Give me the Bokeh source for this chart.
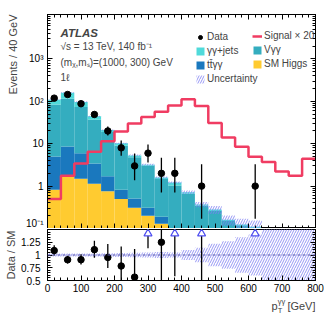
import numpy as np
from bokeh.plotting import figure
from bokeh.layouts import column
from bokeh.models import (Range1d, FixedTicker, LogAxis, LinearAxis, Legend, LegendItem,
                          Label, Title, Span, CustomJSTickFormatter)
from bokeh.embed import file_html
from bokeh.resources import INLINE

# ---------------- data ----------------
bin_edges = [0, 40, 80, 120, 160, 200, 240, 280, 320, 360, 400,
             440, 480, 520, 560, 600, 640, 680, 720, 760, 800]
data_counts = [119, 145, 88, 49, 20, 8, 3, 6, 2, 2, 0, 1, 0, 0, 0, 1, 0, 0, 0, 0]
data_err_lo = [108.6, 133.5, 78.7, 42.0, 15.6, 5.2, 1.37, 3.62, 0.71, 0.71, 0, 0.17,
               0, 0, 0, 0.17, 0, 0, 0, 0]
data_err_hi = [130.4, 157.6, 98.4, 56.8, 25.5, 11.9, 5.92, 9.58, 4.64, 4.64, 0, 3.30,
               0, 0, 0, 3.30, 0, 0, 0, 0]
sm_higgs = [0.82, 1.63, 1.49, 1.14, 0.76, 0.50, 0.31, 0.20, 0.13, 0.04, 0.03, 0.02,
            0.01, 0.01, 0.01, 0.005, 0, 0, 0, 0]
tt_gg = [4.2, 7.0, 4.5, 2.3, 0.94, 0.32, 0.20, 0.11, 0.06, 0.06, 0.03, 0.02,
         0.01, 0.01, 0.005, 0.005, 0, 0, 0, 0]
v_gg = [79.0, 106.4, 68.0, 33.6, 17.3, 8.1, 4.3, 2.7, 1.28, 0.94, 0.60, 0.31,
        0.24, 0.13, 0.10, 0.09, 0, 0, 0, 0]
gg_jets = [25.5, 45.0, 23.0, 7.3, 2.0, 1.28, 0.49, 0.19, 0.13, 0.18, 0.06, 0.02,
           0.02, 0.01, 0.01, 0.01, 0, 0, 0, 0]
signal_x20 = [0.5, 1.75, 3.4, 6.5, 11.4, 19.5, 30, 43, 57, 80, 112, 78,
              31, 14, 8.5, 4.9, 3.7, 2.2, 1.75, 4.4]
rel_unc = [0.03, 0.03, 0.03, 0.03, 0.035, 0.04, 0.045, 0.05, 0.06, 0.05, 0.10, 0.14,
           0.22, 0.27, 0.35, 0.40, 1.0, 1.0, 1.0, 1.0]

x_ticks = [0, 100, 200, 300, 400, 500, 600, 700, 800]
x_tick_labels = ["0", "100", "200", "300", "400", "500", "600", "700", "800"]
y_ticks = [0.1, 1, 10, 100, 1000]
y_tick_labels = ["10⁻¹", "1", "10", "10²", "10³"]
r_ticks = [0.5, 0.75, 1, 1.25]
r_tick_labels = ["0.5", "0.75", "1", "1.25"]

# ---------------- style ----------------
FONT = "Liberation Sans"
C_GJ = "#50dada"
C_VGG = "#34adbf"
C_TT = "#1a78be"
C_H = "#ffcb30"
C_SIG = "#f03c62"
C_UNC = "#7c7cf2"
C_ARROW = "#5050f0"

edges = np.array(bin_edges, float)
left, right = edges[:-1], edges[1:]
centers = 0.5 * (left + right)
data = np.array(data_counts, float)
dlo = np.array(data_err_lo, float)
dhi = np.array(data_err_hi, float)
comps = np.array([sm_higgs, tt_gg, v_gg, gg_jets], float)
cum = np.cumsum(comps, axis=0)
total = cum[-1]
unc = np.array(rel_unc, float)

YMIN, YMAX = 0.1, 1.12e4
RMIN, RMAX = 0.5, 1.5
LOGSPAN = np.log10(YMAX / YMIN)

W = 324
BL, BR = 47, 9


def gx(px):
    return (px - 47.0) * 800.0 / 268.0


def gy(py):
    return float(10 ** (np.log10(YMIN) + (228.0 - py) * LOGSPAN / 214.0))


def fmt(tv, tl):
    return CustomJSTickFormatter(args=dict(tvals=tv, tlabs=tl), code="""
        for (let i = 0; i < tvals.length; i++) {
            if (Math.abs(tick - tvals[i]) <= 1e-6 * Math.max(1, Math.abs(tvals[i]))) return tlabs[i];
        }
        return '';
    """)


def blank():
    return CustomJSTickFormatter(code="return '';")


def style_axis(ax, show, size="10px", standoff=5):
    ax.major_tick_in = 5
    ax.major_tick_out = 0
    ax.minor_tick_in = 3
    ax.minor_tick_out = 0
    ax.axis_line_color = "black"
    ax.major_tick_line_color = "black"
    ax.minor_tick_line_color = "black"
    ax.major_label_text_font = FONT
    ax.major_label_text_color = "black"
    if show:
        ax.major_label_text_font_size = size
        ax.major_label_standoff = standoff
    else:
        ax.major_label_text_font_size = "0px"
        ax.major_label_standoff = 0
        ax.formatter = blank()


y_minor = [m * 10.0 ** e for e in range(-1, 4) for m in range(2, 10)] + [1e4]
x_minor = list(range(0, 801, 20))
r_minor = [round(0.5 + 0.05 * i, 2) for i in range(21)]

# ---------------- main panel ----------------
p = figure(width=W, height=228, x_range=Range1d(0, 800), y_range=Range1d(YMIN, YMAX),
           y_axis_type="log", output_backend="svg", toolbar_location=None,
           min_border_left=BL, min_border_right=BR, min_border_top=14, min_border_bottom=0)
p.xgrid.visible = False
p.ygrid.visible = False
p.outline_line_color = "black"
p.outline_line_alpha = 1.0

p.yaxis[0].ticker = FixedTicker(ticks=y_ticks, minor_ticks=y_minor)
style_axis(p.yaxis[0], True, "10px", 4)
p.yaxis[0].formatter = fmt(y_ticks, y_tick_labels)
p.xaxis[0].ticker = FixedTicker(ticks=x_ticks, minor_ticks=x_minor)
style_axis(p.xaxis[0], False)

ax_r = LogAxis(ticker=FixedTicker(ticks=y_ticks, minor_ticks=y_minor))
style_axis(ax_r, False)
p.add_layout(ax_r, "right")
ax_t = LinearAxis(ticker=FixedTicker(ticks=x_ticks, minor_ticks=x_minor))
style_axis(ax_t, False)
p.add_layout(ax_t, "above")

floor = 1e-3
colors = [C_H, C_TT, C_VGG, C_GJ]
stack_r = []
for i in range(4):
    bot = np.maximum(cum[i - 1], floor) if i > 0 else np.full(len(left), floor)
    top = np.maximum(cum[i], floor)
    rr = p.quad(left=left, right=right, bottom=bot, top=top,
                fill_color=colors[i], line_color=None)
    stack_r.append(rr)

has = total > 0
r_hatch = p.quad(left=left[has], right=right[has], bottom=(total * (1 - unc))[has],
                 top=(total * (1 + unc))[has], fill_alpha=0, line_color=None,
                 hatch_pattern="/", hatch_color=C_UNC, hatch_scale=5, hatch_weight=0.8)

r_sig = p.step(x=edges, y=np.append(signal_x20, signal_x20[-1]), mode="after",
               line_color=C_SIG, line_width=2.5)

dm = data > 0
p.segment(x0=centers[dm], y0=dlo[dm], x1=centers[dm], y1=dhi[dm],
          line_color="black", line_width=1.3)
r_data = p.scatter(x=centers[dm], y=data[dm], size=6.5, color="black")

# legend
leg_common = dict(padding=0, margin=0, spacing=3, glyph_height=10, glyph_width=10,
                  label_height=10, label_standoff=2, label_text_font=FONT,
                  label_text_font_size="10px", background_fill_alpha=0,
                  border_line_alpha=0)
leg1 = Legend(items=[LegendItem(label="Data", renderers=[r_data]),
                     LegendItem(label="γγ+jets", renderers=[stack_r[3]]),
                     LegendItem(label="tt\u0304γγ", renderers=[stack_r[1]]),
                     LegendItem(label="Uncertainty", renderers=[r_hatch])],
              location=(148, 144), **leg_common)
leg2 = Legend(items=[LegendItem(label="Signal × 20", renderers=[r_sig]),
                     LegendItem(label="Vγγ", renderers=[stack_r[2]]),
                     LegendItem(label="SM Higgs", renderers=[stack_r[0]])],
              location=(205, 159), **leg_common)
p.add_layout(leg1)
p.add_layout(leg2)

# text
p.add_layout(Label(x=gx(60), y=gy(32), text="ATLAS", text_font=FONT, text_font_size="11.5px",
                   text_font_style="bold italic", text_baseline="middle", text_align="left"))
p.add_layout(Label(x=gx(60), y=gy(46), text="√s = 13 TeV, 140 fb⁻¹", text_font=FONT,
                   text_font_size="10px", text_baseline="middle", text_align="left"))
p.add_layout(Label(x=gx(60), y=gy(62), text="(mᵪ,mₛ)=(1000, 300) GeV", text_font=FONT,
                   text_font_size="10px", text_baseline="middle", text_align="left"))
p.add_layout(Label(x=gx(60), y=gy(77), text="1ℓ", text_font=FONT,
                   text_font_size="10px", text_baseline="middle", text_align="left"))

p.add_layout(Title(text="Events / 40 GeV", align="right", text_font=FONT,
                   text_font_size="11px", text_font_style="normal", standoff=9, offset=0),
             "left")

# ---------------- ratio panel ----------------
r = figure(width=W, height=68, x_range=p.x_range, y_range=Range1d(RMIN, RMAX),
           output_backend="svg", toolbar_location=None,
           min_border_left=BL, min_border_right=BR, min_border_top=1, min_border_bottom=16)
r.xgrid.visible = False
r.ygrid.visible = False
r.outline_line_color = "black"
r.outline_line_alpha = 1.0

r.xaxis[0].ticker = FixedTicker(ticks=x_ticks, minor_ticks=x_minor)
style_axis(r.xaxis[0], True, "10px", 3)
r.xaxis[0].formatter = fmt(x_ticks, x_tick_labels)
r.yaxis[0].ticker = FixedTicker(ticks=r_ticks, minor_ticks=r_minor)
style_axis(r.yaxis[0], True, "10px", 7)
r.yaxis[0].formatter = fmt(r_ticks, r_tick_labels)
rax_r = LinearAxis(ticker=FixedTicker(ticks=r_ticks, minor_ticks=r_minor))
style_axis(rax_r, False)
r.add_layout(rax_r, "right")

r.quad(left=left, right=right, bottom=1 - unc, top=1 + unc, fill_alpha=0, line_color=None,
       hatch_pattern="/", hatch_color=C_UNC, hatch_scale=5, hatch_weight=0.8)
r.add_layout(Span(location=1, dimension="width", line_color="#5a5ab0", line_dash="3 2",
                  line_width=1))

safe_tot = np.where(total > 0, total, 1.0)
ratio = np.where(total > 0, data / safe_tot, 0)
rlo = np.where(total > 0, dlo / safe_tot, 0)
rhi = np.where(total > 0, dhi / safe_tot, 0)
inside = (data > 0) & (ratio <= RMAX)
above = (data > 0) & (ratio > RMAX)

r.segment(x0=centers[inside], y0=rlo[inside], x1=centers[inside], y1=rhi[inside],
          line_color="black", line_width=1.3)
r.scatter(x=centers[inside], y=ratio[inside], size=6.5, color="black")
r.segment(x0=centers[above], y0=rlo[above], x1=centers[above],
          y1=np.full(above.sum(), 1.39), line_color="black", line_width=1.3)
r.scatter(x=centers[above], y=np.full(above.sum(), 1.42), marker="triangle", size=8,
          line_color=C_ARROW, fill_color="white", line_width=1.2)

r.add_layout(Title(text="Data / SM", align="center", text_font=FONT,
                   text_font_size="11px", text_font_style="normal", standoff=3, offset=0),
             "left")

# ---------------- x-axis title strip: p_T^{γγ} [GeV] ----------------
t = figure(width=W, height=23, x_range=p.x_range, y_range=Range1d(23, 0),
           output_backend="svg", toolbar_location=None,
           x_axis_location=None, y_axis_location=None,
           min_border_left=BL, min_border_right=BR, min_border_top=0, min_border_bottom=0)
t.xgrid.visible = False
t.ygrid.visible = False
t.outline_line_color = None
t.add_layout(Label(x=800, y=9.5, text="[GeV]", text_font=FONT, text_font_size="11px",
                   text_baseline="middle", text_align="right"))
t.add_layout(Label(x=gx(277), y=9.5, text="p", text_font=FONT, text_font_size="11px",
                   text_baseline="middle", text_align="right"))
t.add_layout(Label(x=gx(277.3), y=4.5, text="γγ", text_font=FONT, text_font_size="7.5px",
                   text_baseline="middle", text_align="left"))
t.add_layout(Label(x=gx(277.3), y=13.5, text="T", text_font=FONT, text_font_size="7.5px",
                   text_baseline="middle", text_align="left"))

layout = column(p, r, t, spacing=0)
open("out.html", "w").write(file_html(layout, INLINE))
